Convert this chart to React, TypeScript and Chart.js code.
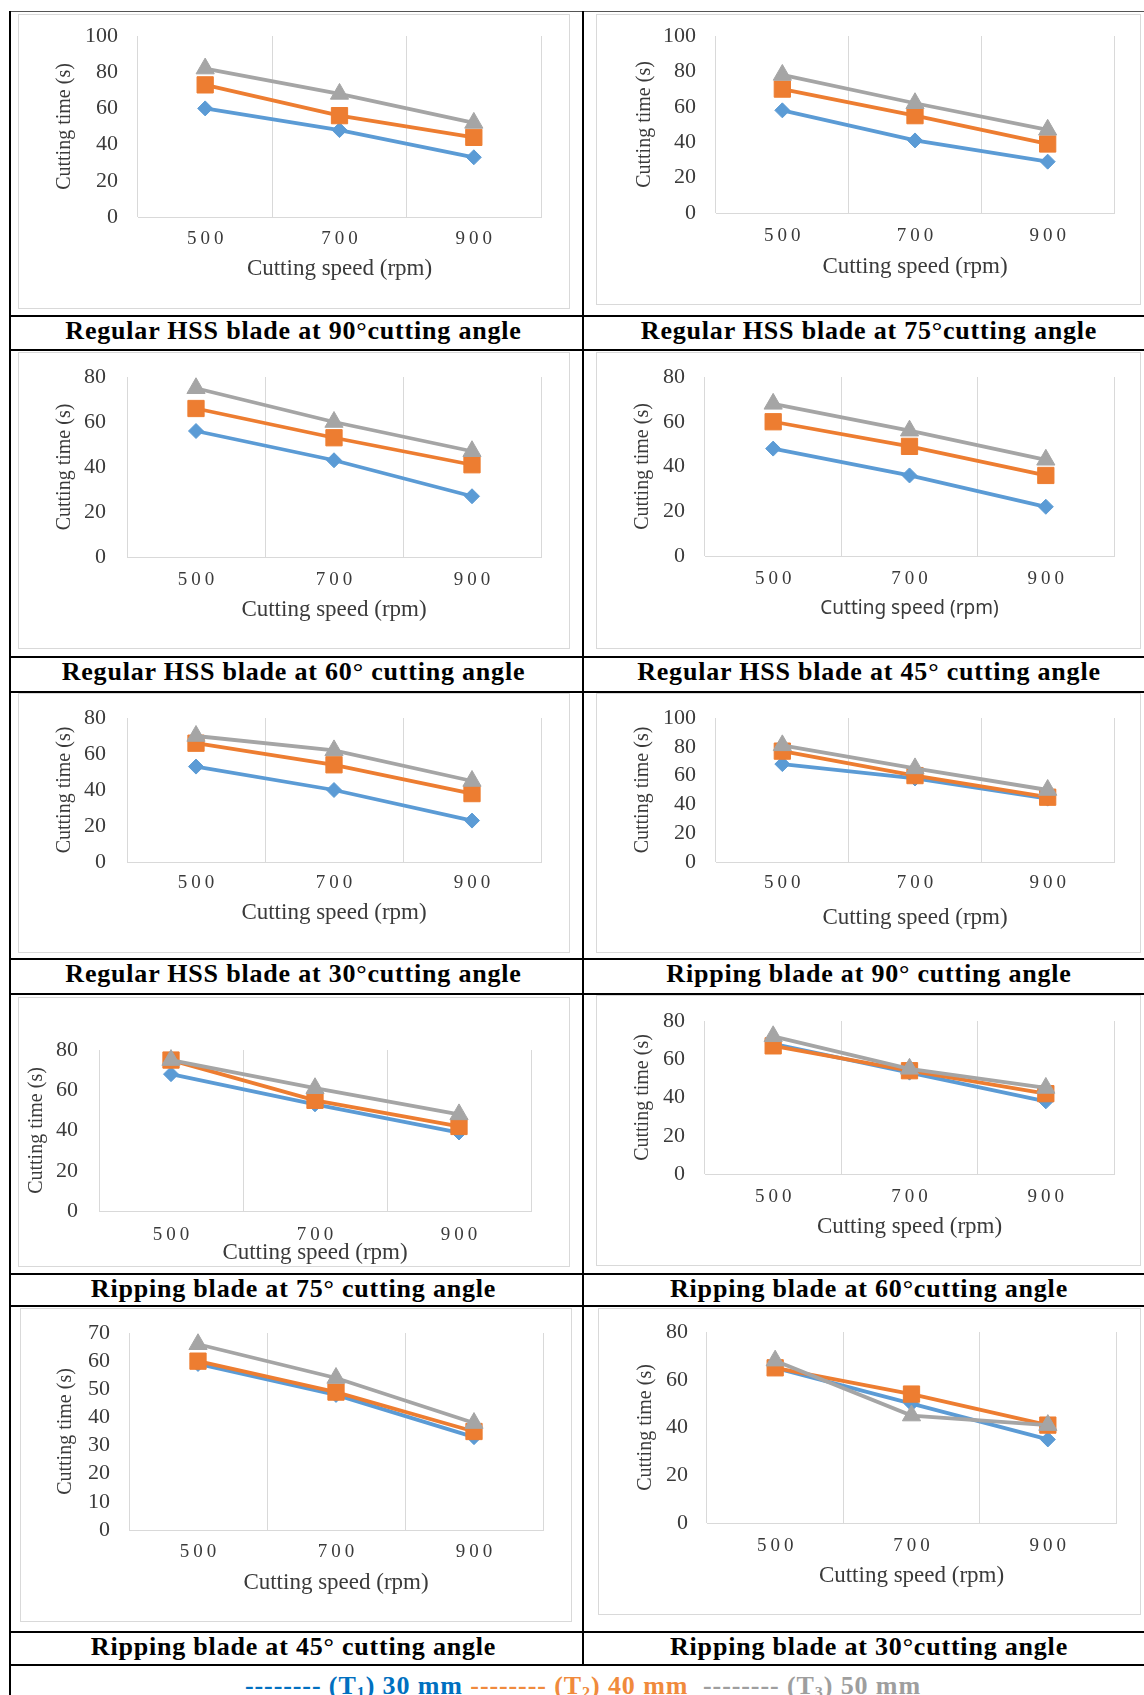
import React, { useEffect, useRef } from 'react';
import { Chart, registerables } from 'chart.js';

Chart.register(...registerables);

// ---------- data ----------
const SPEEDS = ['500', '700', '900'];

const hss90T1 = [60, 48, 33];
const hss90T2 = [73, 56, 44];
const hss90T3 = [82, 68, 52];

const hss75T1 = [58, 41, 29];
const hss75T2 = [70, 55, 39];
const hss75T3 = [78, 62, 47];

const hss60T1 = [56, 43, 27];
const hss60T2 = [66, 53, 41];
const hss60T3 = [75, 60, 47];

const hss45T1 = [48, 36, 22];
const hss45T2 = [60, 49, 36];
const hss45T3 = [68, 56, 43];

const hss30T1 = [53, 40, 23];
const hss30T2 = [66, 54, 38];
const hss30T3 = [70, 62, 45];

const rip90T1 = [68, 58, 44];
const rip90T2 = [77, 60, 45];
const rip90T3 = [81, 65, 50];

const rip75T1 = [68, 53, 39];
const rip75T2 = [75, 55, 42];
const rip75T3 = [75, 61, 48];

const rip60T1 = [68, 53, 38];
const rip60T2 = [67, 54, 42];
const rip60T3 = [72, 55, 45];

const rip45T1 = [59, 48, 33];
const rip45T2 = [60, 49, 35];
const rip45T3 = [66, 54, 38];

const rip30T1 = [65, 50, 35];
const rip30T2 = [65, 54, 41];
const rip30T3 = [68, 45, 41];

const Y_MAX = [100, 100, 80, 80, 80, 100, 80, 80, 70, 80];
const Y_STEP = [20, 20, 20, 20, 20, 20, 20, 20, 10, 20];

const CAPTIONS = [
  'Regular HSS blade at 90°cutting angle',
  'Regular HSS blade at 75°cutting angle',
  'Regular HSS blade at 60° cutting angle',
  'Regular HSS blade at 45° cutting angle',
  'Regular HSS blade at 30°cutting angle',
  'Ripping blade at 90° cutting angle',
  'Ripping blade at 75° cutting angle',
  'Ripping blade at 60°cutting angle',
  'Ripping blade at 45° cutting angle',
  'Ripping blade at 30°cutting angle',
];

const SERIES = [
  [hss90T1, hss90T2, hss90T3],
  [hss75T1, hss75T2, hss75T3],
  [hss60T1, hss60T2, hss60T3],
  [hss45T1, hss45T2, hss45T3],
  [hss30T1, hss30T2, hss30T3],
  [rip90T1, rip90T2, rip90T3],
  [rip75T1, rip75T2, rip75T3],
  [rip60T1, rip60T2, rip60T3],
  [rip45T1, rip45T2, rip45T3],
  [rip30T1, rip30T2, rip30T3],
];

// ---------- layout (page pixel geometry) ----------
type G = {
  L: number; T: number; R: number; B: number;
  pl: number; pt: number; pr: number; pb: number;
  ylr: number; ytx: number; xly: number; xty: number; sans?: boolean;
};
const GEOM: G[] = [
  { L: 18, T: 14, R: 570, B: 309, pl: 138, pt: 36, pr: 541, pb: 217, ylr: 118, ytx: 65, xly: 239, xty: 269 },
  { L: 596, T: 14, R: 1141, B: 305, pl: 716, pt: 36, pr: 1114, pb: 213, ylr: 696, ytx: 645, xly: 236, xty: 267 },
  { L: 18, T: 352, R: 570, B: 649, pl: 127, pt: 377, pr: 541, pb: 557, ylr: 106, ytx: 65, xly: 580, xty: 610 },
  { L: 596, T: 352, R: 1141, B: 649, pl: 705, pt: 377, pr: 1114, pb: 556, ylr: 685, ytx: 643, xly: 579, xty: 609, sans: true },
  { L: 18, T: 693, R: 570, B: 953, pl: 127, pt: 718, pr: 541, pb: 862, ylr: 106, ytx: 65, xly: 883, xty: 913 },
  { L: 596, T: 693, R: 1141, B: 953, pl: 716, pt: 718, pr: 1114, pb: 862, ylr: 696, ytx: 643, xly: 883, xty: 918 },
  { L: 18, T: 997, R: 570, B: 1267, pl: 99, pt: 1050, pr: 531, pb: 1211, ylr: 78, ytx: 37, xly: 1235, xty: 1253 },
  { L: 596, T: 995, R: 1141, B: 1266, pl: 705, pt: 1021, pr: 1114, pb: 1174, ylr: 685, ytx: 643, xly: 1197, xty: 1227 },
  { L: 20, T: 1308, R: 572, B: 1622, pl: 129, pt: 1333, pr: 543, pb: 1530, ylr: 110, ytx: 66, xly: 1552, xty: 1583 },
  { L: 598, T: 1308, R: 1141, B: 1615, pl: 707, pt: 1332, pr: 1116, pb: 1523, ylr: 688, ytx: 646, xly: 1546, xty: 1576 },
];
const CAPTION_TOPS = [316, 657, 959, 1274, 1632];
const H_LINES = [316, 350, 657, 692, 959, 994, 1274, 1306, 1632, 1665];

const SERIF = "'Liberation Serif', 'Times New Roman', serif";
const SANS = "'Noto Sans', 'DejaVu Sans', sans-serif";
const TXT = '#3a3a3a';
const BLUE = '#5B9BD5';
const ORANGE = '#ED7D31';
const GREY = '#A5A5A5';

const YT_SIZE = 20;
const YL_SIZE = 22;
const XL_SIZE = 19;
const XT_SIZE = 23;

const spacingPlugin = {
  id: 'xTickSpacing',
  beforeDraw(chart: any) {
    const sx = chart.scales && chart.scales.x;
    if (sx && !sx.__spaced) {
      const orig = sx.drawLabels.bind(sx);
      sx.drawLabels = (area: any) => {
        const ctx: any = chart.ctx;
        const prev = ctx.letterSpacing;
        ctx.letterSpacing = '4px';
        ctx.save();
        ctx.translate(2, 0);
        orig(area);
        ctx.restore();
        ctx.letterSpacing = prev || '0px';
      };
      sx.__spaced = true;
    }
  },
};

function LineChart({ idx }: { idx: number }) {
  const ref = useRef<HTMLCanvasElement>(null);
  const g = GEOM[idx];
  const W = g.R - g.L - 2;
  const H = g.B - g.T - 2;
  useEffect(() => {
    const ox = g.L + 1;
    const oy = g.T + 1;
    const [t1, t2, t3] = SERIES[idx];
    const xtFam = g.sans ? SANS : SERIF;
    const xtSize = g.sans ? 19 : XT_SIZE;
    const chart = new Chart(ref.current as HTMLCanvasElement, {
      type: 'line',
      data: {
        labels: SPEEDS,
        datasets: [
          {
            label: '(T1) 30 mm', data: t1, borderColor: BLUE, backgroundColor: BLUE,
            pointBackgroundColor: BLUE, pointBorderColor: BLUE, borderWidth: 3.8,
            pointStyle: 'rectRot', pointRadius: 7.5, pointBorderWidth: 1, tension: 0, order: 3, clip: false as any,
          },
          {
            label: '(T2) 40 mm', data: t2, borderColor: ORANGE, backgroundColor: ORANGE,
            pointBackgroundColor: ORANGE, pointBorderColor: ORANGE, borderWidth: 3.8,
            pointStyle: 'rect', pointRadius: 11.5, pointBorderWidth: 1, tension: 0, order: 2, clip: false as any,
          },
          {
            label: '(T3) 50 mm', data: t3, borderColor: GREY, backgroundColor: GREY,
            pointBackgroundColor: GREY, pointBorderColor: GREY, borderWidth: 3.8,
            pointStyle: 'triangle', pointRadius: 10.5, pointBorderWidth: 1, tension: 0, order: 1, clip: false as any,
          },
        ],
      },
      options: {
        responsive: false,
        maintainAspectRatio: false,
        animation: false,
        events: [],
        layout: { padding: { left: 0, top: g.pt - oy, right: ox + W - g.pr, bottom: 0 } },
        plugins: { legend: { display: false }, tooltip: { enabled: false } },
        scales: {
          x: {
            type: 'category',
            offset: true,
            grid: { offset: true, color: '#d9d9d9', lineWidth: 1, drawTicks: false },
            border: { display: true, color: '#d9d9d9', width: 1 },
            ticks: {
              font: { family: SERIF, size: XL_SIZE },
              color: TXT,
              padding: g.xly - g.pb - XL_SIZE * 0.6,
              maxRotation: 0,
              autoSkip: false,
            },
            title: {
              display: true,
              text: 'Cutting speed (rpm)',
              font: { family: xtFam, size: xtSize },
              color: TXT,
              padding: { top: 0, bottom: (g.B - 1) - g.xty - xtSize * 0.6 },
            },
            afterFit: (s: any) => {
              s.height = (g.B - 1) - g.pb;
              s.paddingLeft = 0; s.paddingRight = 0; s.paddingTop = 0; s.paddingBottom = 0;
            },
          },
          y: {
            min: 0,
            max: Y_MAX[idx],
            ticks: {
              stepSize: Y_STEP[idx],
              autoSkip: false,
              font: { family: SERIF, size: YL_SIZE, lineHeight: 1 },
              color: TXT,
              padding: g.pl - g.ylr,
            },
            grid: { display: false, drawTicks: false },
            border: { display: false },
            title: {
              display: true,
              text: 'Cutting time (s)',
              font: { family: SERIF, size: YT_SIZE },
              color: TXT,
              padding: { top: g.ytx - ox - YT_SIZE * 0.6, bottom: 0 },
            },
            afterFit: (s: any) => {
              s.width = g.pl - ox;
              s.paddingLeft = 0; s.paddingRight = 0; s.paddingTop = 0; s.paddingBottom = 0;
            },
          },
        },
      },
      plugins: [spacingPlugin as any],
    });
    return () => chart.destroy();
  }, []);
  return (
    <div
      style={{
        position: 'absolute', left: g.L, top: g.T, width: g.R - g.L, height: g.B - g.T,
        boxSizing: 'border-box', border: '1px solid #d9d9d9', background: '#fff',
      }}
    >
      <canvas ref={ref} width={W} height={H} style={{ display: 'block', width: W, height: H }} />
    </div>
  );
}

const subStyle: React.CSSProperties = { fontSize: '0.62em', verticalAlign: '-0.22em', lineHeight: 0 };

export default function App() {
  return (
    <div
      style={{
        position: 'absolute', left: 0, top: 0, width: 1144, height: 1695,
        overflow: 'hidden', background: '#fff',
      }}
    >
      {/* table lines */}
      <div style={{ position: 'absolute', left: 10, top: 11, width: 1134, height: 1, background: '#555' }} />
      {H_LINES.map((y, i) => (
        <div key={'h' + i} style={{ position: 'absolute', left: 10, top: y - 1, width: 1134, height: 2, background: '#000' }} />
      ))}
      <div style={{ position: 'absolute', left: 9, top: 11, width: 2, height: 1684, background: '#000' }} />
      <div style={{ position: 'absolute', left: 582, top: 11, width: 2, height: 1654, background: '#000' }} />

      {GEOM.map((_, i) => (
        <LineChart key={'c' + i} idx={i} />
      ))}

      {CAPTIONS.map((c, i) => {
        const row = Math.floor(i / 2);
        const col = i % 2;
        return (
          <div
            key={'cap' + i}
            style={{
              position: 'absolute',
              left: col === 0 ? 11 : 585,
              width: col === 0 ? 565 : 568,
              top: CAPTION_TOPS[row] + 2,
              textAlign: 'center',
              fontFamily: SERIF,
              fontWeight: 'bold',
              fontSize: 26,
              lineHeight: '26px',
              letterSpacing: '0.8px',
              color: '#000',
              whiteSpace: 'nowrap',
            }}
          >
            {c}
          </div>
        );
      })}

      <div
        style={{
          position: 'absolute', left: 11, width: 1144, top: 1673, textAlign: 'center',
          fontFamily: SERIF, fontWeight: 'bold', fontSize: 26, lineHeight: '26px',
          letterSpacing: '0.9px', whiteSpace: 'pre',
        }}
      >
        <span style={{ color: '#0070C0' }}>-------- (T<sub style={subStyle}>1</sub>) 30 mm</span>
        <span style={{ color: '#F08A3C' }}> -------- (T<sub style={subStyle}>2</sub>) 40 mm</span>
        <span style={{ color: '#9E9E9E' }}>{'  '}-------- (T<sub style={subStyle}>3</sub>) 50 mm</span>
      </div>
    </div>
  );
}
